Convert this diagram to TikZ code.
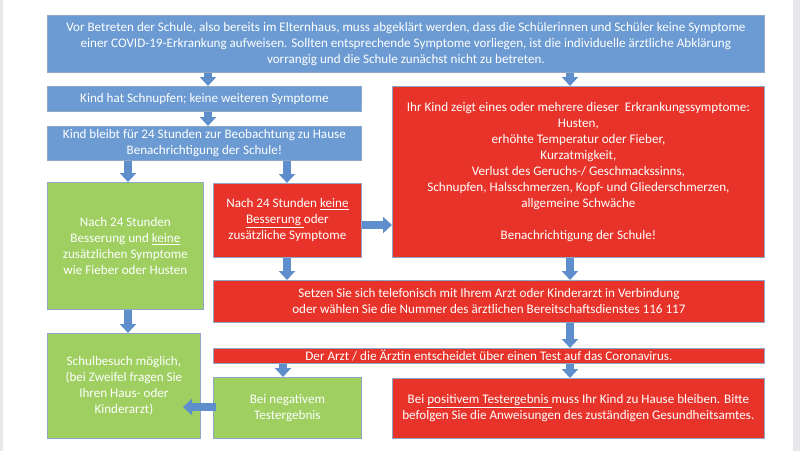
\documentclass[tikz,border=0pt]{standalone}
\usepackage{fontspec}
\setmainfont{Carlito}
\usetikzlibrary{arrows.meta}
\definecolor{bbox}{HTML}{6B9BD2}
\definecolor{rbox}{HTML}{E8332A}
\definecolor{gbox}{HTML}{9ECF60}
\definecolor{arr}{HTML}{5E8FCC}
\definecolor{edgeb}{HTML}{8FA6C4}
\definecolor{strip}{HTML}{E8E8EC}
\begin{document}
\begin{tikzpicture}[x=1pt,y=-1pt,
  box/.style={draw=edgeb, line width=0.8pt, anchor=north west, inner sep=0pt,
    align=center, text=white, font=\fontsize{13.1}{16}\selectfont},
  bluebox/.style={box, fill=bbox},
  redbox/.style={box, fill=rbox},
  greenbox/.style={box, fill=gbox},
  barrow/.style={draw=arr, line width=7.5pt, -{Triangle[width=16pt,length=9pt]}}]
\useasboundingbox (0,0) rectangle (800,451);
\fill[white] (0,0) rectangle (800,451);
\fill[strip] (0,0) rectangle (3,451);
\fill[strip] (793,0) rectangle (800,451);

\node[bluebox, minimum width=717pt, minimum height=57pt] (top) at (47,15)
  {Vor Betreten der Schule, also bereits im Elternhaus, muss abgeklärt werden, dass die Schülerinnen und Schüler keine Symptome\\
   einer COVID-19-Erkrankung aufweisen. Sollten entsprechende Symptome vorliegen, ist die individuelle ärztliche Abklärung\\
   vorrangig und die Schule zunächst nicht zu betreten.};
\node[bluebox, minimum width=314pt, minimum height=25pt] (schnupfen) at (47,86)
  {Kind hat Schnupfen; keine weiteren Symptome};
\node[bluebox, minimum width=314pt, minimum height=34pt] (bleibt) at (47,126)
  {Kind bleibt für 24 Stunden zur Beobachtung zu Hause\\ Benachrichtigung der Schule!};
\node[redbox, minimum width=372pt, minimum height=171pt] (sym) at (392,86)
  {Ihr Kind zeigt eines oder mehrere dieser\ \ Erkrankungssymptome:\\
   Husten,\\ erhöhte Temperatur oder Fieber,\\ Kurzatmigkeit,\\
   Verlust des Geruchs-/ Geschmackssinns,\\
   Schnupfen, Halsschmerzen, Kopf- und Gliederschmerzen,\\
   allgemeine Schwäche\\[16pt] Benachrichtigung der Schule!};
\node[greenbox, minimum width=156pt, minimum height=127pt] (green1) at (47,182)
  {Nach 24 Stunden\\ Besserung und \underline{keine}\\ zusätzlichen Symptome\\ wie Fieber oder Husten};
\node[redbox, minimum width=148pt, minimum height=74pt] (redmid) at (213,183)
  {Nach 24 Stunden \underline{keine}\\ \underline{Besserung }oder\\ zusätzliche Symptome};
\node[redbox, minimum width=551pt, minimum height=42pt] (setzen) at (213,280)
  {Setzen Sie sich telefonisch mit Ihrem Arzt oder Kinderarzt in Verbindung\\
   oder wählen Sie die Nummer des ärztlichen Bereitschaftsdienstes 116 117};
\node[redbox, minimum width=551pt, minimum height=15pt] (arzt) at (213,348)
  {Der Arzt / die Ärztin entscheidet über einen Test auf das Coronavirus.};
\node[greenbox, minimum width=153pt, minimum height=105pt] (green2) at (47,333)
  {Schulbesuch möglich,\\ (bei Zweifel fragen Sie\\ Ihren Haus- oder\\ Kinderarzt)};
\node[greenbox, minimum width=148pt, minimum height=61pt] (green3) at (213,377)
  {Bei negativem\\ Testergebnis};
\node[redbox, minimum width=372pt, minimum height=60pt] (redbot) at (392,378)
  {Bei \underline{positivem Testergebnis }muss Ihr Kind zu Hause bleiben. Bitte\\
   befolgen Sie die Anweisungen des zuständigen Gesundheitsamtes.};

\coordinate (c128) at (128,0);
\coordinate (c208) at (208,0);
\coordinate (c283) at (283,0);
\coordinate (c287) at (287,0);
\coordinate (c570) at (570,0);
\coordinate (c225) at (0,225);
\coordinate (ta) at (216,407);
\coordinate (tb) at (183,407);

\draw[barrow] (top.south -| c208) -- (schnupfen.north -| c208);
\draw[barrow] (top.south -| c570) -- (sym.north -| c570);
\draw[barrow] (schnupfen.south -| c208) -- (bleibt.north -| c208);
\draw[barrow] (bleibt.south -| c128) -- (green1.north -| c128);
\draw[barrow] (bleibt.south -| c287) -- (redmid.north -| c287);
\draw[barrow] (redmid.east |- c225) -- (sym.west |- c225);
\draw[barrow] (redmid.south -| c287) -- (setzen.north -| c287);
\draw[barrow] (sym.south -| c570) -- (setzen.north -| c570);
\draw[barrow] (green1.south -| c128) -- (green2.north -| c128);
\draw[barrow] (setzen.south -| c570) -- (arzt.north -| c570);
\draw[barrow] (arzt.south -| c283) -- (green3.north -| c283);
\draw[barrow] (arzt.south -| c570) -- (redbot.north -| c570);
\draw[barrow] (ta) -- (tb);
\end{tikzpicture}
\end{document}
